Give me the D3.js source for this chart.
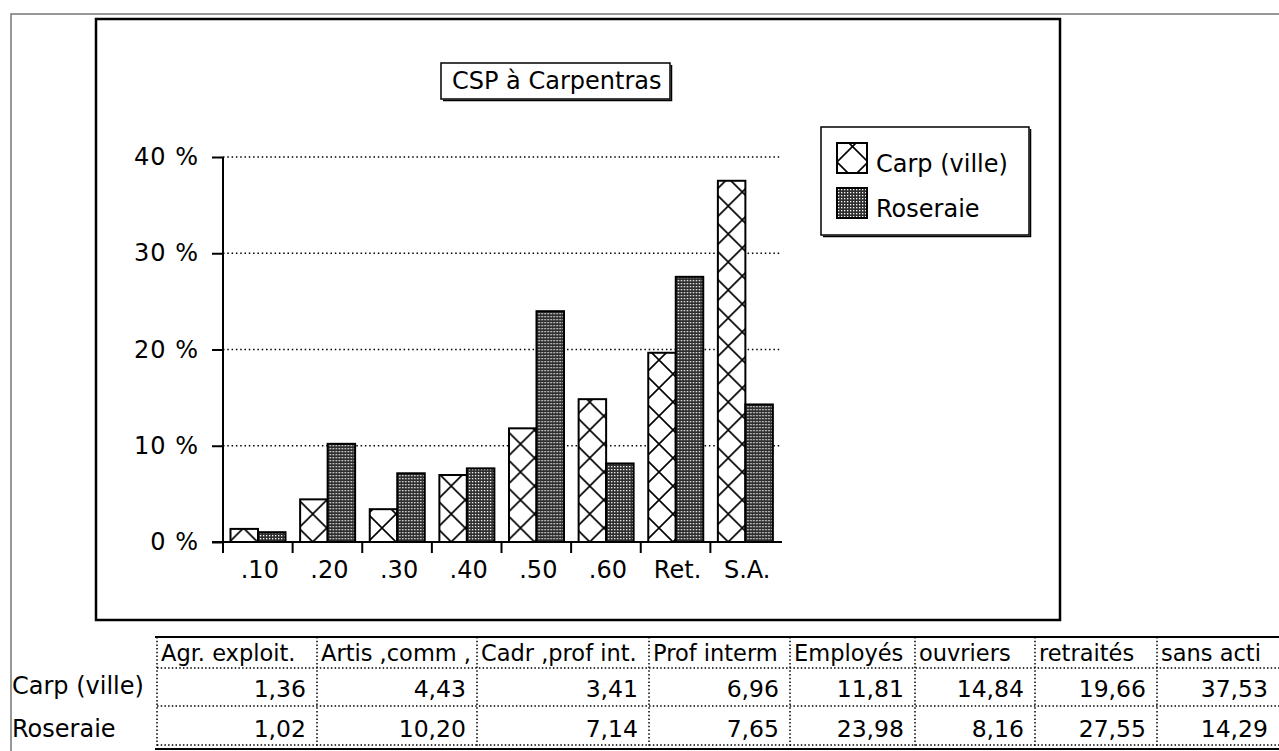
<!DOCTYPE html>
<html><head><meta charset="utf-8">
<script src="https://cdn.jsdelivr.net/npm/d3@7"></script>
<style>
body{margin:0;background:#fff}
svg{display:block}
text{font-family:"DejaVu Sans",sans-serif;fill:#000}
</style>
</head><body>
<svg id="c" width="1279" height="751"></svg>
<script>
// ---------- data ----------
const title = "CSP à Carpentras";
const categories = [".10", ".20", ".30", ".40", ".50", ".60", "Ret.", "S.A."];
const headers = ["Agr. exploit.", "Artis ,comm ,", "Cadr ,prof int.", "Prof interm", "Employés", "ouvriers", "retraités", "sans acti"];
const seriesNames = ["Carp (ville)", "Roseraie"];
const carp = [1.36, 4.43, 3.41, 6.96, 11.81, 14.84, 19.66, 37.53];
const roseraie = [1.02, 10.20, 7.14, 7.65, 23.98, 8.16, 27.55, 14.29];
const yTicks = [0, 10, 20, 30, 40];

// ---------- layout ----------
const svg = d3.select("#c");
const defs = svg.append("defs");
const plot = {left: 223, right: 780, top: 157, bottom: 542};
const colEdges = [157, 317, 477, 649, 790, 915, 1035, 1157, 1279];
const FS = 24;

const x = d3.scaleBand().domain(categories).range([plot.left, plot.right]);
const xs = d3.scaleBand().domain(seriesNames).range([7.5, 62.5]);
const y = d3.scaleLinear().domain([0, 40]).range([plot.bottom, plot.top]);

// patterns
function hatch(id, tx, ty, s) {
  const p = defs.append("pattern").attr("id", id).attr("patternUnits", "userSpaceOnUse")
    .attr("width", s).attr("height", s).attr("patternTransform", `translate(${tx},${ty})`);
  p.append("rect").attr("width", s).attr("height", s).attr("fill", "#fff");
  p.append("path").attr("d", `M0,0L${s},${s}M${s},0L0,${s}M-1,${s-1}L1,${s+1}M${s-1},-1L${s+1},1`)
    .attr("stroke", "#000").attr("stroke-width", 1.6).attr("fill", "none");
}
const dp = defs.append("pattern").attr("id", "dots").attr("patternUnits", "userSpaceOnUse")
  .attr("width", 3).attr("height", 3);
dp.append("rect").attr("width", 3).attr("height", 3).attr("fill", "#2e2e2e");
dp.append("rect").attr("x", 1).attr("y", 1).attr("width", 1.3).attr("height", 1.3).attr("fill", "#fff");

// outer frame
svg.append("path").attr("d", "M11,751V14H1279").attr("fill", "none").attr("stroke", "#777").attr("stroke-width", 1.5);
// chart frame
svg.append("rect").attr("x", 96).attr("y", 19).attr("width", 964).attr("height", 601)
  .attr("fill", "none").attr("stroke", "#000").attr("stroke-width", 2.5);

// title box
function box(x0, y0, w, h) {
  svg.append("rect").attr("x", x0).attr("y", y0).attr("width", w).attr("height", h)
    .attr("fill", "#fff").attr("stroke", "#000").attr("stroke-width", 1.5);
  svg.append("path").attr("d", `M${x0+2},${y0+h+1.5}H${x0+w+1.5}V${y0+2}`)
    .attr("fill", "none").attr("stroke", "#000").attr("stroke-width", 1.5);
}
box(441, 63, 229, 36);
svg.append("text").attr("x", 452).attr("y", 89).attr("font-size", FS).text(title);

// gridlines
svg.append("g").selectAll("line").data(yTicks.filter(d => d > 0)).join("line")
  .attr("x1", plot.left).attr("x2", plot.right + 2)
  .attr("y1", d => y(d)).attr("y2", d => y(d))
  .attr("stroke", "#000").attr("stroke-width", 1.5).attr("stroke-dasharray", "1.5,2.8");

// bars
const rows = categories.map((c, i) => ({cat: c, i, vals: [
  {s: seriesNames[0], v: carp[i]}, {s: seriesNames[1], v: roseraie[i]}]}));
rows.forEach(r => hatch("h" + r.i, x(r.cat) + xs(seriesNames[0]), plot.bottom, 28));
const g = svg.append("g").selectAll("g").data(rows).join("g")
  .attr("transform", d => `translate(${x(d.cat)},0)`);
g.selectAll("rect").data(d => d.vals.map(v => ({...v, i: d.i}))).join("rect")
  .attr("x", d => xs(d.s)).attr("width", xs.bandwidth())
  .attr("y", d => y(d.v)).attr("height", d => y(0) - y(d.v))
  .attr("fill", d => d.s === seriesNames[0] ? `url(#h${d.i})` : "url(#dots)")
  .attr("stroke", "#000").attr("stroke-width", 2);

// y axis
const ya = svg.append("g").attr("transform", `translate(${plot.left},0)`)
  .call(d3.axisLeft(y).tickValues(yTicks).tickSize(11).tickPadding(13).tickFormat(d => d + " %"));
ya.select(".domain").remove();
ya.selectAll("line").attr("stroke-width", 2);
ya.selectAll("text").attr("font-size", FS).attr("font-family", "DejaVu Sans").attr("letter-spacing", 1);
svg.append("line").attr("x1", plot.left).attr("x2", plot.left).attr("y1", plot.top).attr("y2", plot.bottom + 11)
  .attr("stroke", "#000").attr("stroke-width", 2);

// x axis
const xa = svg.append("g").attr("transform", `translate(0,${plot.bottom})`)
  .call(d3.axisBottom(x).tickSize(0).tickPadding(19));
xa.select(".domain").remove();
xa.selectAll("text").attr("font-size", FS).attr("font-family", "DejaVu Sans").attr("dx", 2);
svg.append("line").attr("x1", plot.left - 11).attr("x2", plot.right + 2).attr("y1", plot.bottom).attr("y2", plot.bottom)
  .attr("stroke", "#000").attr("stroke-width", 2);
svg.append("g").selectAll("line").data(categories.slice(1)).join("line")
  .attr("x1", d => x(d)).attr("x2", d => x(d)).attr("y1", plot.bottom).attr("y2", plot.bottom + 11)
  .attr("stroke", "#000").attr("stroke-width", 2);

// legend
box(821, 127, 208, 108);
hatch("hleg", 837, 143, 31);
const leg = svg.append("g").selectAll("g").data(seriesNames).join("g")
  .attr("transform", (d, i) => `translate(837,${143 + i * 45})`);
leg.append("rect").attr("width", 30).attr("height", 30)
  .attr("fill", (d, i) => i === 0 ? "url(#hleg)" : "url(#dots)")
  .attr("stroke", "#000").attr("stroke-width", 2);
leg.append("text").attr("x", 39).attr("y", 29).attr("font-size", FS).text(d => d);

// table
const fmt = v => d3.format(".2f")(v).replace(".", ",");
const T = {top: 637, r1: 668, r2: 706, bot: 745};
const tg = svg.append("g");
const dotted = sel => sel.attr("stroke", "#000").attr("stroke-width", 1.5).attr("stroke-dasharray", "1.5,2.2");
tg.append("line").attr("x1", 155).attr("x2", 1279).attr("y1", T.top).attr("y2", T.top).attr("stroke", "#000").attr("stroke-width", 2);
tg.append("line").attr("x1", 155).attr("x2", 1279).attr("y1", T.bot + 4).attr("y2", T.bot + 4).attr("stroke", "#000").attr("stroke-width", 2);
[T.r1, T.r2, T.bot].forEach(yy => tg.append("line").attr("x1", 157).attr("x2", 1279).attr("y1", yy).attr("y2", yy).call(dotted));
tg.selectAll("line.v").data(colEdges.slice(0, -1)).join("line").attr("class", "v")
  .attr("x1", d => d).attr("x2", d => d).attr("y1", T.top).attr("y2", T.bot + 4).call(dotted);
headers.forEach((h, i) => {
  defs.append("clipPath").attr("id", "cl" + i).append("rect")
    .attr("x", colEdges[i] + 1).attr("y", T.top).attr("width", colEdges[i + 1] - colEdges[i] - 2).attr("height", 40);
  tg.append("text").attr("clip-path", `url(#cl${i})`).attr("x", colEdges[i] + 4).attr("y", 661)
    .attr("font-size", 22.5).text(h);
});
[carp, roseraie].forEach((arr, r) => {
  tg.append("text").attr("x", 12).attr("y", r === 0 ? 694 : 737).attr("font-size", FS).text(seriesNames[r]);
  tg.selectAll(null).data(arr).join("text")
    .attr("x", (d, i) => colEdges[i + 1] - 11).attr("y", r === 0 ? 697 : 737)
    .attr("text-anchor", "end").attr("font-size", 23.5).text(fmt);
});
</script>
</body></html>
